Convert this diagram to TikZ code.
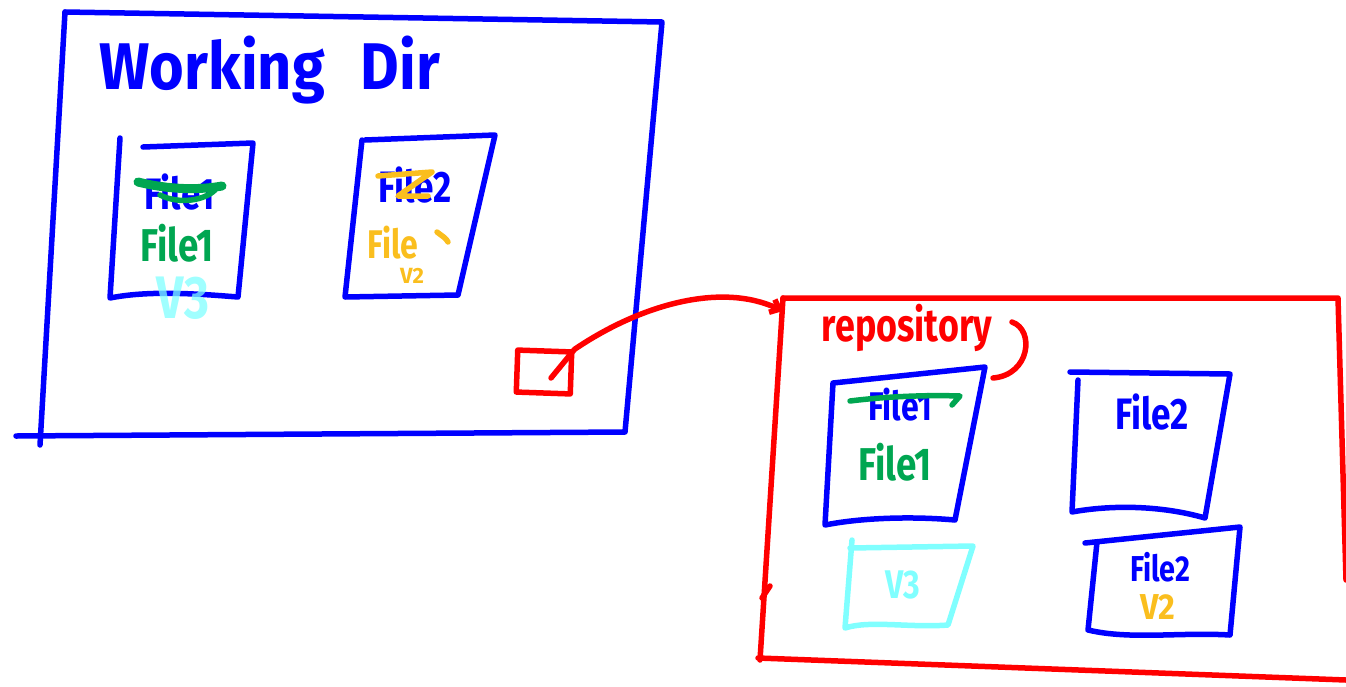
\documentclass[tikz,border=0pt]{standalone}
\usepackage{fontspec}
\setmainfont{Fira Sans}
\usetikzlibrary{arrows.meta}
\definecolor{pblue}{RGB}{0,0,255}
\definecolor{pred}{RGB}{255,0,0}
\definecolor{pgreen}{RGB}{0,166,81}
\definecolor{porange}{RGB}{250,190,30}
\definecolor{pcyan}{RGB}{128,255,255}
\tikzset{
  pen/.style={line width=5.5pt, line cap=round, line join=round},
  hand/.style={inner sep=0pt, anchor=center},
}
\begin{document}
\begin{tikzpicture}[x=1pt,y=-1pt]
\useasboundingbox (0,0) rectangle (1346,686);
% Working dir box
\coordinate (wa) at (65,12); \coordinate (wb) at (662,22);
\coordinate (wc) at (625,432); \coordinate (wd) at (16,436);
\coordinate (we) at (40,445);
\draw[pen,pblue] (wa) -- (wb) -- (wc) -- (wd);
\draw[pen,pblue] (wa) -- (we);
\node[hand,text=pblue,font=\fontsize{66}{66}\selectfont\bfseries,xscale=0.9] (wdtitle) at (270,70) {Working\hspace{40pt}Dir};
% File1 in working dir
\draw[pen,pblue] (143,147) -- (253,143) -- (238,297) .. controls (200,294) and (150,290) .. (110,298) -- (120,138);
\node[hand,text=pblue,font=\fontsize{44}{44}\selectfont\bfseries,xscale=0.8] (wf1old) at (180,192) {File1};
\draw[line width=9pt,line cap=round,pgreen] (138,182) .. controls (170,190) and (200,190) .. (222,186);
\draw[pen,pgreen] (160,195) .. controls (180,205) and (205,200) .. (215,190);
\node[hand,text=pgreen,font=\fontsize{46}{46}\selectfont\bfseries,xscale=0.8] (wf1) at (177,243) {File1};
\node[hand,text=pcyan,font=\fontsize{60}{60}\selectfont\bfseries,xscale=0.8,opacity=0.75] (wv3) at (183,298) {V3};
% File2 in working dir
\draw[pen,pblue] (365,140) -- (495,135) -- (458,295) -- (345,297) -- (362,140);
\node[hand,text=pblue,font=\fontsize{44}{44}\selectfont\bfseries,xscale=0.8] (wf2) at (415,185) {File2};
\draw[pen,porange] (378,176) -- (432,172) -- (398,196) -- (428,196);
\node[hand,text=porange,font=\fontsize{40}{40}\selectfont\bfseries,xscale=0.8] (wf2new) at (393,243) {File};
\draw[pen,porange] (437,232) .. controls (442,236) and (446,238) .. (448,242);
\node[hand,text=porange,font=\fontsize{22}{22}\selectfont\bfseries] (wv2) at (412,276) {V2};
% small red box and arrow
\node[pen,pred,draw,minimum width=54pt,minimum height=42pt,inner sep=0pt,rotate=-2] (src) at (544,372) {};
\coordinate (tip) at (783,311);
\draw[pen,pred,-{Straight Barb[length=8pt,width=14pt]}] (551,378) -- (src.north east) .. controls (640,305) and (720,282) .. (tip);
% Repository box
\coordinate (ra) at (783,298); \coordinate (rb) at (1338,298);
\coordinate (rc) at (1346,580); \coordinate (rd) at (1346,680);
\coordinate (re) at (758,658);
\draw[pen,pred] (ra) -- (rb) -- (rc);
\draw[pen,pred] (re) -- (rd);
\draw[pen,pred] (ra) -- (760,660);
\draw[pen,pred] (762,598) -- (770,586);
\node[hand,text=pred,font=\fontsize{46}{46}\selectfont\bfseries,xscale=0.78] (repotitle) at (907,328) {repository};
\draw[pen,pred] (1012,322) .. controls (1035,330) and (1030,375) .. (993,378);
% Repo File1
\draw[pen,pblue] (833,383) -- (985,367) -- (955,520) .. controls (910,516) and (860,518) .. (825,525) -- (833,383);
\node[hand,text=pblue,font=\fontsize{40}{40}\selectfont\bfseries,xscale=0.8] (rf1old) at (900,405) {File1};
\draw[pen,pgreen] (850,401) .. controls (890,396) and (930,395) .. (960,396) -- (952,405);
\node[hand,text=pgreen,font=\fontsize{46}{46}\selectfont\bfseries,xscale=0.8] (rf1) at (895,462) {File1};
% Repo File2
\draw[pen,pblue] (1070,372) -- (1230,374) -- (1205,518) .. controls (1160,505) and (1110,505) .. (1072,512) -- (1078,380);
\node[hand,text=pblue,font=\fontsize{44}{44}\selectfont\bfseries,xscale=0.8] (rf2) at (1152,412) {File2};
% Repo V3
\draw[pen,pcyan] (850,548) -- (973,546) -- (948,625) .. controls (910,628) and (870,620) .. (845,628) -- (852,540);
\node[hand,text=pcyan,font=\fontsize{40}{40}\selectfont\bfseries,xscale=0.8] (rv3) at (903,585) {V3};
% Repo File2 V2
\draw[pen,pblue] (1085,543) -- (1240,527) -- (1230,635) .. controls (1180,632) and (1130,640) .. (1088,630) -- (1097,542);
\node[hand,text=pblue,font=\fontsize{36}{36}\selectfont\bfseries,xscale=0.8] (rf2v) at (1160,567) {File2};
\node[hand,text=porange,font=\fontsize{36}{36}\selectfont\bfseries,xscale=0.9] (rv2) at (1158,607) {V2};
\end{tikzpicture}
\end{document}
